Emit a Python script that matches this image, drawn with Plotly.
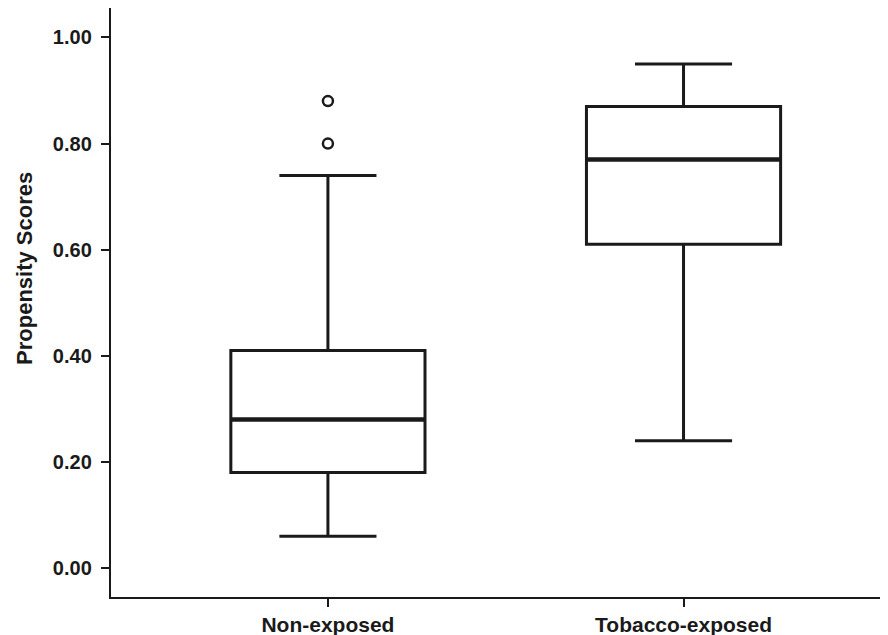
import plotly.graph_objects as go

categories = ["Non-exposed", "Tobacco-exposed"]
q1 = [0.18, 0.61]
median = [0.28, 0.77]
q3 = [0.41, 0.87]
lower_whisker = [0.06, 0.24]
upper_whisker = [0.74, 0.95]
outliers = [[0.80, 0.88], []]
y_ticks = [0.0, 0.2, 0.4, 0.6, 0.8, 1.0]
y_tick_labels = ["0.00", "0.20", "0.40", "0.60", "0.80", "1.00"]
y_title = "Propensity Scores"

BOX_W = 0.546
LINE = "#1a1a1a"
FONT = "Liberation Sans, Arial, sans-serif"

fig = go.Figure()
for i, cat in enumerate(categories):
    fig.add_trace(go.Box(
        x=[i], q1=[q1[i]], median=[median[i]], q3=[q3[i]],
        lowerfence=[lower_whisker[i]], upperfence=[upper_whisker[i]],
        width=BOX_W, whiskerwidth=0.5, boxpoints=False,
        fillcolor="white", line=dict(color=LINE, width=3),
        showlegend=False, hoverinfo="skip", name=cat,
    ))
    # thicker median line
    fig.add_trace(go.Scatter(
        x=[i - BOX_W / 2, i + BOX_W / 2], y=[median[i], median[i]],
        mode="lines", line=dict(color=LINE, width=4.5),
        showlegend=False, hoverinfo="skip",
    ))
    if outliers[i]:
        fig.add_trace(go.Scatter(
            x=[i] * len(outliers[i]), y=outliers[i], mode="markers",
            marker=dict(symbol="circle-open", size=10, color=LINE,
                        line=dict(width=2.5, color=LINE)),
            showlegend=False, hoverinfo="skip",
        ))

# page body has an 8px margin, so the figure is sized to fit the window
fig.update_layout(
    width=880, height=627,
    margin=dict(l=103, r=0, t=0, b=38, autoexpand=False),
    plot_bgcolor="white", paper_bgcolor="white",
    font=dict(family=FONT, color="#1a1a1a"),
)
fig.add_annotation(
    text=f"<b>{y_title}</b>", textangle=-90, showarrow=False,
    xref="paper", yref="paper", x=-0.1107, y=0.5586,
    xanchor="center", yanchor="middle",
    font=dict(size=22, family=FONT, color="#1a1a1a"),
)
fig.update_xaxes(
    range=[-0.610, 1.575], tickmode="array", tickvals=list(range(len(categories))),
    ticktext=[f"<b>{c}</b>" for c in categories],
    tickfont=dict(size=21, family=FONT, color="#1a1a1a"),
    showline=True, linecolor=LINE, linewidth=2.4,
    ticks="outside", ticklen=8, tickwidth=2.4, tickcolor=LINE,
    showgrid=False, zeroline=False, automargin=False,
)
fig.update_yaxes(
    range=[-0.0547, 1.0555], tickmode="array", tickvals=y_ticks,
    ticktext=[f"<b>{t}</b>" for t in y_tick_labels],
    tickfont=dict(size=20, family=FONT, color="#1a1a1a"),
    ticklabelstandoff=5,
    showline=True, linecolor=LINE, linewidth=2.4,
    ticks="outside", ticklen=8, tickwidth=2.4, tickcolor=LINE,
    showgrid=False, zeroline=False, automargin=False,
)

fig.write_html("out.html")
